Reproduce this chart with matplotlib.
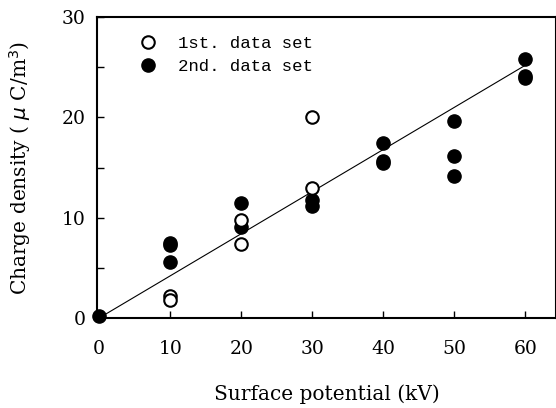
import matplotlib
matplotlib.use('Agg')
import matplotlib.pyplot as plt
import numpy as np

# 1st data set (open circles)
x1 = [10, 10, 20, 20, 30, 30]
y1 = [2.2, 1.8, 9.8, 7.4, 20.0, 13.0]

# 2nd data set (filled circles)
x2 = [0, 10, 10, 10, 20, 20, 30, 30, 40, 40, 40, 50, 50, 50, 60, 60, 60]
y2 = [0.2, 7.5, 7.3, 5.6, 11.5, 9.1, 11.8, 11.2, 17.4, 15.4, 15.6, 19.6, 16.1, 14.2, 25.8, 23.9, 24.1]

# fitted line
fit_x = [0, 60]
fit_slope = 0.42

plt.rcParams['font.family'] = ['DejaVu Serif']

fig = plt.figure(figsize=(5.56, 4.08), dpi=100)
ax = fig.add_axes([0.1745, 0.2206, 0.8255, 0.7377])

fx = np.array(fit_x)
ax.plot(fx, fit_slope * fx, color='black', lw=0.8, zorder=1)
ax.plot(x1, y1, 'o', mfc='white', mec='black', mew=1.5, ms=9, ls='none',
        label='1st. data set', zorder=3)
ax.plot(x2, y2, 'o', mfc='black', mec='black', ms=9.5, ls='none',
        label='2nd. data set', zorder=2, clip_on=False)

ax.set_xlim(-0.3, 64.3)
ax.set_ylim(0, 30)
ax.set_xticks([0, 10, 20, 30, 40, 50, 60])
ax.set_yticks([0, 10, 20, 30])
ax.set_yticks([5, 15, 25], minor=True)
ax.tick_params(direction='in', length=5, width=1, labelsize=13.5)
ax.tick_params(which='minor', direction='in', length=5, width=1)
ax.tick_params(axis='x', pad=16)
ax.tick_params(axis='y', pad=8)
for s in ax.spines.values():
    s.set_linewidth(1.5)

ax.set_xlabel('Surface potential (kV)', fontsize=14.5, labelpad=19)
ax.set_ylabel(r'Charge density ( $\mu$ C/m$^3$)', fontsize=14.5, labelpad=21)

leg = ax.legend(loc='upper left', frameon=False,
                bbox_to_anchor=(0.04, 0.99), handletextpad=0.7,
                labelspacing=0.45, prop={'family': 'Liberation Mono', 'size': 12.5})

fig.savefig('out.png', dpi=100)
